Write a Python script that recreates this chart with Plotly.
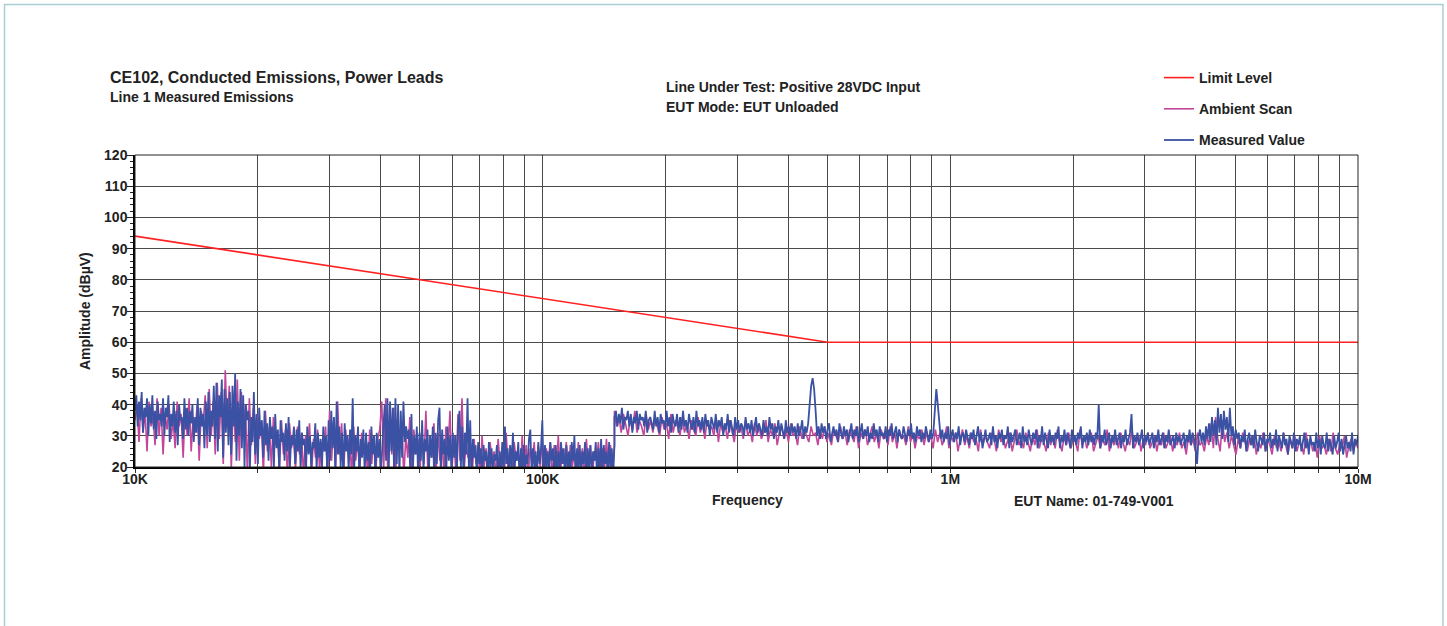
import numpy as np
import plotly.graph_objects as go

# ---------------- data ----------------
LIMIT_FREQ = [10e3, 500e3, 10e6]
LIMIT_DB = [94, 60, 60]

# receiver sweep bands (start, stop) in Hz
BAND_A = (10e3, 150e3)
BAND_B = (150e3, 10e6)

MEAS_A = [
    38,43,33,41,35,44,31,39,36,42,30,40,34,43,32,38,29,41,35,37,
    33,42,30,39,36,43,28,37,33,41,31,38,27,40,35,36,29,42,32,39,
    30,38,34,40,28,36,31,42,27,39,33,37,26,41,30,44,28,38,33,46,
    29,47,25,43,36,48,23,45,31,42,27,44,24,46,33,50,22,41,30,45,
    26,43,20,40,35,38,19,36,28,44,24,37,21,39,30,35,23,38,27,34,
    22,36,29,33,20,37,26,32,19,35,28,31,22,34,25,36,20,30,27,33,
    21,32,25,35,19,31,27,29,18,33,24,30,20,28,26,34,19,31,23,29,
    20,33,25,30,18,35,22,38,26,36,19,41,24,33,20,31,17,34,25,30,
    19,32,24,42,18,30,25,33,17,29,23,32,18,31,22,28,17,33,24,30,
    18,31,23,29,17,27,33,40,22,42,19,41,25,39,18,42,21,40,17,38,
    23,41,28,33,29,32,20,37,18,30,24,33,17,31,22,35,19,29,25,32,
    18,30,23,33,17,31,21,35,39,18,32,24,29,17,33,22,30,18,31,23,
    30,18,34,38,20,33,17,31,24,42,19,35,17,29,23,27,16,28,21,26,
    17,27,22,25,16,28,20,26,17,24,22,27,16,25,19,28,17,33,21,26,
    16,27,20,31,17,25,22,28,16,26,19,27,17,24,21,29,32,18,26,20,
    25,17,28,21,26,35,16,27,20,25,17,28,22,26,16,27,19,25,18,28,
    21,26,16,27,20,25,17,28,22,30,16,26,19,27,17,25,21,28,16,26,
    20,27,17,25,22,28,16,26,19,29,18,27,21,25,16,28,20,26,17,27,
]

MEAS_B = [
    36,38,33,37,34,39,32,36,35,38,33,37,31,36,34,38,32,37,35,36,
    33,38,31,35,36,34,32,38,33,36,31,37,34,35,32,38,33,36,31,37,
    34,33,37,31,36,32,38,33,35,31,37,34,32,36,31,38,33,35,32,36,
    31,37,33,35,30,36,34,32,37,31,35,33,36,30,34,32,37,31,35,33,
    30,36,32,35,31,34,33,30,36,32,34,31,35,30,33,36,31,34,32,30,
    35,31,33,30,36,32,34,29,33,31,35,30,34,32,29,35,31,33,30,34,
    31,33,29,34,30,32,35,29,33,31,34,40,46,48.5,45,38,30,33,29,34,
    31,33,29,32,34,28,31,33,30,32,28,34,31,29,33,30,32,28,31,34,
    29,32,30,33,28,31,34,29,32,30,33,28,31,29,34,30,32,28,33,30,
    31,29,33,28,32,30,34,29,31,33,28,32,30,29,33,31,28,32,30,34,
    29,31,28,33,30,32,28,31,29,33,30,28,32,29,31,37,45,40,33,29,
    32,28,31,29,33,27,30,32,28,31,29,33,27,30,31,28,32,29,27,31,
    29,32,27,30,33,28,31,26,30,32,28,29,31,27,33,28,30,26,31,29,
    32,27,30,29,33,26,31,28,30,32,27,29,31,26,33,28,30,27,32,29,
    27,31,29,32,26,30,28,33,27,31,29,26,32,28,30,27,31,29,33,26,
    30,28,32,27,31,29,26,32,28,30,27,31,29,33,26,30,28,31,27,32,
    28,30,27,31,29,40,26,30,28,32,27,29,31,26,30,28,32,27,29,31,
    26,30,28,32,27,29,31,37,26,30,28,31,27,29,32,26,30,28,31,27,
    29,31,26,30,28,32,27,29,31,26,30,28,32,27,29,30,26,31,28,30,
    27,29,31,26,30,28,32,27,31,29,26,21,30,32,28,31,27,33,29,34,
    28,36,30,35,27,39,31,37,29,38,32,36,28,39,30,33,27,32,29,31,
    26,30,28,32,25,29,31,27,30,26,32,28,25,30,29,27,31,25,29,28,
    31,26,29,27,32,25,30,28,26,31,27,29,24,30,28,26,31,25,29,27,
    30,25,28,31,26,29,24,30,27,28,25,31,26,29,24,30,27,26,31,25,
    29,27,24,30,26,28,31,25,29,24,27,30,26,28,25,31,24,29,27,30,
]

AMB_A = [
    35,40,28,42,31,38,25,41,33,36,27,42,30,39,24,37,32,40,29,35,
    26,41,33,37,23,39,30,42,25,36,31,40,22,38,34,43,26,45,30,41,
    24,47,29,44,21,51,33,46,19,43,28,48,22,44,31,40,18,42,27,39,
    21,37,29,34,18,38,25,33,20,36,27,31,19,35,24,32,17,34,26,30,
    19,33,24,31,17,30,26,34,18,29,23,32,19,28,25,33,17,38,22,35,
    19,41,24,34,18,32,25,30,17,33,22,29,18,31,24,28,17,32,21,30,
    18,29,32,41,20,42,18,40,24,39,19,31,28,33,17,30,23,36,18,32,
    24,29,17,33,21,38,18,30,23,34,17,31,22,29,18,33,24,38,19,30,
    17,37,22,42,18,28,23,26,16,29,21,27,17,30,20,26,16,28,22,25,
    17,29,21,26,16,31,20,27,17,28,22,25,16,30,19,27,17,26,21,28,
    16,27,20,29,17,26,22,28,16,27,19,30,17,26,21,28,16,27,20,25,
    17,28,21,26,16,29,20,27,17,25,22,28,16,26,19,29,20,27,18,27,
]

AMB_B = [
    38,33,36,31,37,34,30,36,32,38,31,35,33,30,37,32,35,31,36,33,
    30,36,32,34,29,37,31,35,33,30,36,31,34,29,35,32,30,36,31,34,
    29,35,32,33,30,36,28,34,31,33,29,35,32,28,34,31,33,29,35,30,
    32,28,34,30,33,29,31,35,28,32,30,34,27,31,33,29,32,28,34,30,
    31,27,33,29,32,30,28,33,30,31,27,32,29,33,28,31,27,32,30,28,
    33,29,31,27,32,30,28,33,26,31,29,32,27,30,33,28,31,26,32,29,
    30,27,33,28,31,26,32,29,30,27,33,28,31,26,30,29,32,27,31,28,
    30,26,32,28,31,27,29,33,26,30,28,31,25,29,32,27,30,26,31,28,
    29,25,32,27,30,28,26,31,29,25,32,28,30,26,29,31,25,28,32,27,
    29,26,31,28,25,30,27,32,26,29,28,25,31,27,30,26,32,28,25,30,
    27,31,26,29,28,25,32,27,30,26,29,31,25,28,30,26,29,27,32,25,
    29,27,30,26,31,28,25,29,27,32,26,28,30,25,29,27,31,26,28,30,
    25,29,27,31,26,28,30,25,29,27,31,26,28,24,30,27,29,25,31,27,
    28,25,30,27,34,26,36,29,25,35,28,31,26,30,27,24,29,26,31,28,
    25,29,27,30,24,28,26,31,25,29,27,24,30,26,28,25,31,27,24,29,
    26,30,25,28,27,24,31,26,29,25,28,23,30,26,27,24,29,25,31,26,
    24,28,26,30,23,27,29,25,28,26,
]

X_TICK_VALS = [1e4, 1e5, 1e6, 1e7]
X_TICK_TEXT = ["10K", "100K", "1M", "10M"]
X_MINOR_VALS = [m * 10 ** e for e in range(4, 7) for m in range(2, 10)]

# ---------------- build ----------------
def sweep(band, vals):
    return np.geomspace(band[0], band[1], len(vals))

meas_f = np.concatenate([sweep(BAND_A, MEAS_A), sweep(BAND_B, MEAS_B)])
meas_v = np.array(MEAS_A + MEAS_B, dtype=float)
amb_f = np.concatenate([sweep(BAND_A, AMB_A), sweep(BAND_B, AMB_B)])
amb_v = np.array(AMB_A + AMB_B, dtype=float)

FONT = "Liberation Sans, Arial, Helvetica, sans-serif"
RED = "#ff2121"
MAG = "#c2469a"
BLUE = "#3b51a3"

fig = go.Figure()
fig.add_trace(go.Scatter(x=LIMIT_FREQ, y=LIMIT_DB, mode="lines", name="Limit Level",
                         legendgroup="a", line=dict(color=RED, width=1.6)))
fig.add_trace(go.Scatter(x=amb_f, y=amb_v, mode="lines", name="Ambient Scan",
                         legendgroup="b", line=dict(color=MAG, width=1.6)))
fig.add_trace(go.Scatter(x=meas_f, y=meas_v, mode="lines", name="Measured Value",
                         legendgroup="c", line=dict(color=BLUE, width=1.8)))

W, H = 1447, 626
# plot area in page pixels: x 135..1358, y 155..467
SX0, SX1, SY0, SY1 = 135, 1358, 155, 467
L, T, R, B = SX0, SY0, W - SX1, H - SY1
PW, PH = SX1 - SX0, SY1 - SY0


def px(x):
    return (x - SX0) / PW


def py(y):
    return (SY1 - y) / PH


GRID = "#4a4a4a"
fig.update_xaxes(type="log", range=[4, 7], tickmode="array", tickvals=X_TICK_VALS,
                 ticktext=X_TICK_TEXT, showgrid=True, gridcolor=GRID, gridwidth=1,
                 ticks="outside", ticklen=4, tickcolor="#333", ticklabelstandoff=-6,
                 tickfont=dict(family=FONT, size=14, color="#222", weight="bold"),
                 showline=True, linecolor="black", linewidth=1.5, mirror=False,
                 minor=dict(tickmode="array", tickvals=X_MINOR_VALS, showgrid=True,
                            gridcolor=GRID, gridwidth=1, ticks="outside", ticklen=4,
                            tickcolor="#333"),
                 zeroline=False)
fig.update_yaxes(range=[20, 120], dtick=10, tick0=20, showgrid=True, gridcolor=GRID,
                 gridwidth=1, ticks="outside", ticklen=6, tickcolor="#222",
                 ticklabelstandoff=-3,
                 tickfont=dict(family=FONT, size=14, color="#222", weight="bold"),
                 showline=True, linecolor="black", linewidth=1.5,
                 minor=dict(dtick=2, ticks="outside", ticklen=3, tickcolor="#222",
                            showgrid=False),
                 zeroline=False)

ann = [
    dict(text="CE102, Conducted Emissions, Power Leads", x=px(108), y=py(77), size=16),
    dict(text="Line 1 Measured Emissions", x=px(108), y=py(97), size=14),
    dict(text="Line Under Test: Positive 28VDC Input", x=px(664), y=py(87), size=14),
    dict(text="EUT Mode: EUT Unloaded", x=px(664), y=py(107), size=14),
    dict(text="EUT Name: 01-749-V001", x=px(1012), y=py(501), size=14),
]
annotations = []
for a in ann:
    annotations.append(dict(text=a["text"], x=a["x"], y=a["y"], xref="paper", yref="paper",
                            xanchor="left", yanchor="middle", showarrow=False,
                            font=dict(family=FONT, size=a["size"], color="#222",
                                      weight="bold")))
annotations.append(dict(text="Frequency", x=px(747), y=py(500), xref="paper", yref="paper",
                        xanchor="center", yanchor="middle", showarrow=False,
                        font=dict(family=FONT, size=14, color="#222", weight="bold")))
annotations.append(dict(text="Amplitude (dBµV)", x=px(85), y=0.5, xref="paper", yref="paper",
                        xanchor="center", yanchor="middle", showarrow=False, textangle=-90,
                        font=dict(family=FONT, size=14, color="#222", weight="bold")))

shapes = [
    dict(type="rect", xref="paper", yref="paper", x0=px(4.5), x1=px(1443), y0=py(700),
         y1=py(4.5), line=dict(color="#a9cfd6", width=1.5), fillcolor="rgba(0,0,0,0)",
         layer="below"),
    dict(type="rect", xref="paper", yref="paper", x0=0, x1=1, y0=0, y1=1,
         line=dict(color="#222", width=1), fillcolor="rgba(0,0,0,0)"),
]

fig.update_layout(
    width=W, height=H, margin=dict(l=L, r=R, t=T, b=B, pad=0),
    paper_bgcolor="white", plot_bgcolor="white",
    font=dict(family=FONT, color="#222"),
    showlegend=True,
    legend=dict(x=px(1159), y=py(62), xanchor="left", yanchor="top",
                traceorder="grouped", tracegroupgap=10, bgcolor="rgba(0,0,0,0)",
                font=dict(family=FONT, size=14, color="#222", weight="bold")),
    annotations=annotations, shapes=shapes,
)

fig.write_html("out.html", config={"displayModeBar": False},
               post_script="document.body.style.margin='0';")
